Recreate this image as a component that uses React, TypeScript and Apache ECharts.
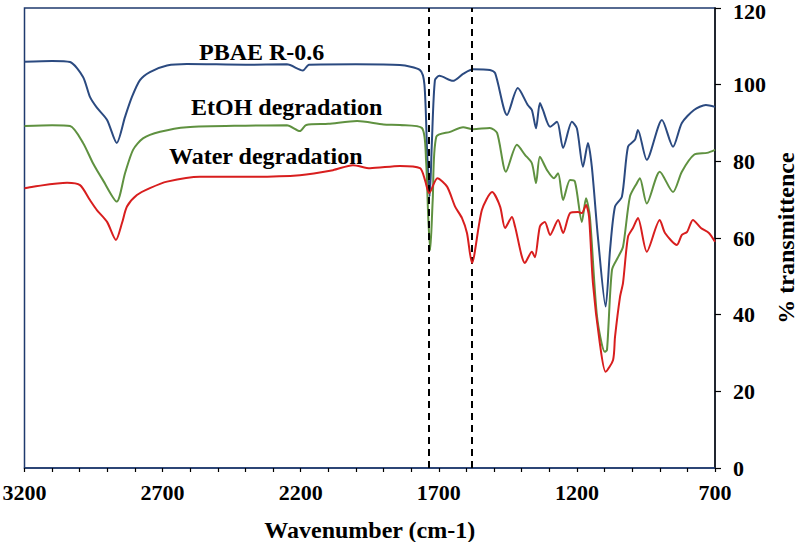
import React, { useEffect, useRef } from "react";
import * as echarts from "echarts";

const xTickLabels = [3200, 2700, 2200, 1700, 1200, 700];
const yTickLabels = [0, 20, 40, 60, 80, 100, 120];
const seriesNames = ["PBAE R-0.6", "EtOH degradation", "Water degradation"];
const dashedLines = [1735, 1580];

const pbae: [number, number][] = [
  [3200, 106], [3100, 106.2], [3035, 105.9], [2988, 102], [2963, 96.8], [2938, 94], [2901, 90.8],
  [2866, 84.8], [2836, 91.6], [2811, 96.8], [2782, 101.2], [2746, 103.3], [2684, 105], [2612, 105.4],
  [2400, 105.2], [2250, 105.3], [2192, 103.7], [2170, 105.2], [2000, 105.3], [1841, 105.1], [1768, 103.8],
  [1752, 100], [1742, 82], [1733, 70.8], [1725, 85], [1714, 101.2], [1698, 102.3], [1649, 101],
  [1612, 102.8], [1576, 104], [1515, 103.8], [1496, 103], [1453, 92.1], [1414, 99.1], [1378, 94.7],
  [1363, 93.4], [1348, 88.6], [1334, 95.2], [1323, 93.4], [1297, 89], [1272, 90.3], [1250, 83.5],
  [1218, 90.3], [1200, 88.6], [1178, 78.6], [1160, 84.8], [1146, 78.6], [1124, 60.3], [1096, 42.1],
  [1080, 56.9], [1062, 68.2], [1037, 70.8], [1015, 83.8], [990, 85.6], [979, 88.2], [947, 80.4],
  [892, 90.8], [852, 83.8], [820, 90], [776, 93.4], [733, 94.7], [700, 94.2],
];

const etoh: [number, number][] = [
  [3200, 89.2], [3100, 89.4], [3035, 89.2], [2988, 84.8], [2952, 79.5], [2916, 75.1], [2866, 69.5],
  [2836, 76.9], [2807, 83], [2771, 86], [2709, 87.7], [2612, 88.9], [2400, 89.3], [2250, 89.4],
  [2203, 87.9], [2180, 89.5], [2100, 89.8], [1996, 90.5], [1900, 89.6], [1841, 89.5], [1761, 88.7],
  [1746, 80], [1738, 65], [1731, 56.9], [1722, 70], [1709, 86.4], [1659, 87.7], [1612, 88.9],
  [1576, 88.4], [1515, 88.7], [1489, 87.4], [1457, 77.3], [1417, 84.3], [1388, 81.7], [1363, 79.5],
  [1348, 74.3], [1334, 81.2], [1308, 77.7], [1283, 75.6], [1268, 76.9], [1250, 69.9], [1225, 75.1],
  [1207, 74.7], [1182, 64.2], [1167, 70.4], [1153, 65.5], [1127, 39.4], [1099, 30.3], [1091, 30.8],
  [1073, 51.7], [1051, 55], [1033, 57.7], [1008, 70.8], [983, 74.3], [972, 75.6], [947, 69],
  [900, 77.3], [852, 72], [820, 77.3], [776, 81.7], [729, 82.2], [700, 83],
];

const water: [number, number][] = [
  [3200, 73], [3169, 73.4], [3046, 74.4], [2999, 73.8], [2963, 69.9], [2938, 67.3], [2901, 64.2],
  [2869, 59.5], [2847, 63.9], [2829, 68.2], [2793, 71.2], [2746, 73], [2684, 74.7], [2565, 76],
  [2384, 76], [2203, 76.4], [2083, 77.7], [2011, 79], [1949, 78.2], [1841, 78.8], [1768, 78.2],
  [1750, 75.1], [1735, 71.7], [1705, 75.6], [1670, 73.4], [1641, 68.2], [1616, 65.2], [1598, 61.3],
  [1580, 53.5], [1544, 67.3], [1507, 72], [1478, 68.2], [1460, 62.6], [1435, 65.5], [1424, 63],
  [1388, 53.5], [1363, 56.4], [1352, 55], [1334, 63], [1316, 64.2], [1297, 60.8], [1268, 64.7],
  [1250, 61.3], [1225, 66.5], [1196, 66.8], [1182, 66.5], [1167, 68.6], [1156, 65.5], [1142, 48.3],
  [1117, 32.6], [1096, 25.1], [1069, 28.2], [1062, 34.2], [1044, 44.6], [1033, 48.3], [1015, 60.3],
  [997, 62.6], [979, 65.2], [947, 56.4], [900, 64.7], [881, 61.3], [838, 58.2], [820, 60.8],
  [801, 61.6], [780, 64.7], [751, 62.6], [722, 61.3], [700, 59],
];

const colors = ["#2B4A80", "#5F9140", "#D81E1E"];
const FONT = "'Liberation Serif', 'Times New Roman', serif";

export default function App() {
  const ref = useRef<HTMLDivElement>(null);
  useEffect(() => {
    if (!ref.current) return;
    const chart = echarts.init(ref.current, null, { renderer: "svg" });
    const xMin = xTickLabels[xTickLabels.length - 1];
    const xMax = xTickLabels[0];
    const yMax = yTickLabels[yTickLabels.length - 1];
    const datasets = [pbae, etoh, water];
    const labelFont = { fontFamily: FONT, fontWeight: "bold" as const, fontSize: 22, color: "#000" };
    chart.setOption({
      animation: false,
      backgroundColor: "#fff",
      grid: {
        left: 24.5, right: 85, top: 8, bottom: 74,
        outerBoundsMode: "none", containLabel: false,
        show: true, borderColor: "#1F3A6E", borderWidth: 1.5, backgroundColor: "transparent",
      },
      xAxis: {
        type: "value", inverse: true, min: xMin, max: xMax, interval: 100,
        name: "Wavenumber (cm-1)", nameLocation: "middle", nameGap: 50, nameMoveOverlap: false,
        nameTextStyle: { fontFamily: FONT, fontWeight: "bold", fontSize: 24, color: "#000" },
        axisLine: { show: true, lineStyle: { color: "#1F3A6E", width: 1.5 } },
        axisTick: { show: true, length: 4, inside: false, lineStyle: { color: "#000", width: 1.2 } },
        axisLabel: {
          margin: 13, ...labelFont,
          formatter: (v: number) => (xTickLabels.includes(v) ? String(v) : ""),
        },
        splitLine: { show: false },
      },
      yAxis: {
        type: "value", position: "right", min: 0, max: yMax, interval: 20,
        name: "% transmittence", nameLocation: "middle", nameRotate: 90, nameGap: 60, nameMoveOverlap: false,
        nameTextStyle: { fontFamily: FONT, fontWeight: "bold", fontSize: 24, color: "#000", lineHeight: 22 },
        axisLine: { show: true, lineStyle: { color: "#111", width: 1.5 } },
        axisTick: { show: true, length: 6, inside: false, lineStyle: { color: "#000", width: 1.2 } },
        axisLabel: {
          margin: 18, ...labelFont,
          formatter: (v: number) =>
            v === yMax ? `{t|${v}}` : yTickLabels.includes(v) ? String(v) : "",
          rich: { t: { ...labelFont, padding: [7, 0, 0, 0] } },
        },
        splitLine: { show: false },
      },
      series: datasets.map((d, i) => ({
        name: seriesNames[i],
        type: "line",
        data: d,
        showSymbol: false,
        smooth: 0.25,
        lineStyle: { color: colors[i], width: 2 },
        z: 3 + i,
        markLine: i === 0 ? {
          silent: true, symbol: "none", label: { show: false },
          lineStyle: { color: "#000", type: [7, 5], width: 2 },
          data: dashedLines.map((x) => ({ xAxis: x })),
        } : undefined,
      })),
      graphic: [
        { type: "text", left: 199, top: 40, style: { text: seriesNames[0], font: `bold 24px ${FONT}`, fill: "#000" } },
        { type: "text", left: 191, top: 95, style: { text: seriesNames[1], font: `bold 24px ${FONT}`, fill: "#000" } },
        { type: "text", left: 169, top: 144, style: { text: seriesNames[2], font: `bold 24px ${FONT}`, fill: "#000" } },
      ],
    });
    return () => chart.dispose();
  }, []);
  return <div ref={ref} style={{ width: 800, height: 542, position: "absolute", left: 0, top: 0, overflow: "hidden" }} />;
}
